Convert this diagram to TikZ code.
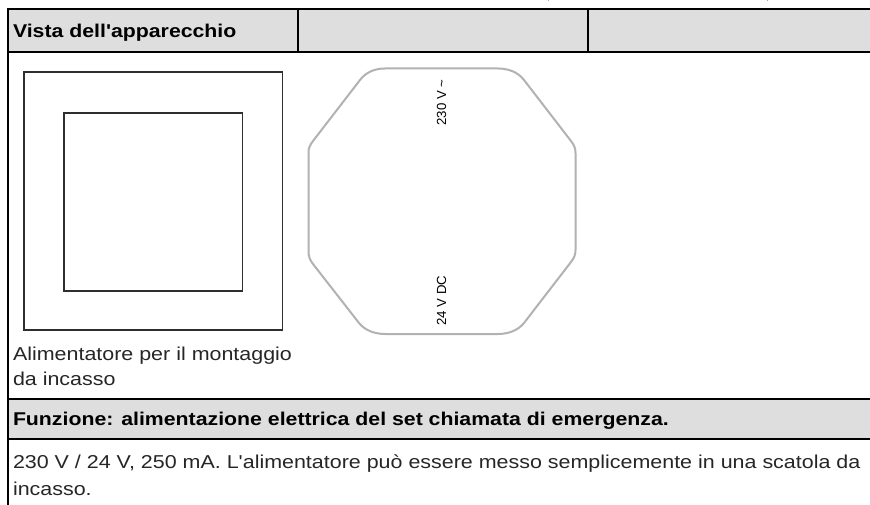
\documentclass[tikz,border=0pt]{standalone}
\usepackage{fontspec}
\setmainfont{Liberation Sans}
\newfontfamily\widefont[FakeStretch=1.15]{Liberation Sans}
\tikzset{
  rule/.style={draw=black,line width=2pt},
  band/.style={fill=black!13,draw=none},
  frame/.style={draw=black!82,line width=1.6pt},
  body/.style={draw=black!30,line width=2pt,line join=round},
  speck/.style={draw=black!35,line width=1pt},
  txt/.style={anchor=base west,inner sep=0pt,outer sep=0pt,text=black!85,font=\widefont\fontsize{18.65}{22}\selectfont},
  head/.style={txt,text=black,font=\widefont\fontsize{18.5}{22}\selectfont\bfseries},
  tiny/.style={inner sep=0pt,outer sep=0pt,anchor=base,rotate=90,text=black,font=\fontsize{13.2}{16}\selectfont}
}
\begin{document}
\begin{tikzpicture}[x=1pt,y=-1pt]
\useasboundingbox (0,0) rectangle (870,505);
\fill[white] (0,0) rectangle (870,505);
\fill[band] (8,9) rectangle (870,52);
\fill[band] (8,399) rectangle (870,439);
\draw[speck] (548,0) -- (548,1.5);
\draw[speck] (767,0) -- (767,1.5);
\draw[rule] (870,9) -- (8,9) -- (8,505);
\draw[rule] (8,52) -- (870,52);
\draw[rule] (298,9) -- (298,52);
\draw[rule] (588,9) -- (588,52);
\draw[rule] (8,399) -- (870,399);
\draw[rule] (8,439) -- (870,439);
\draw[frame] (23.7,71.8) rectangle (282.5,330);
\draw[frame] (63.8,113.2) rectangle (242.3,290.7);
\draw[body] (308.5,152) .. controls (308.5,148) and (310,145) .. (313,141)
  -- (360,80) .. controls (366,72) and (375,68.5) .. (385,68.5)
  -- (498,68.5) .. controls (508,68.5) and (518,72) .. (524,80)
  -- (571,141) .. controls (574,145) and (575.5,148) .. (575.5,153)
  -- (575.5,250) .. controls (575.5,255) and (574,258) .. (571,262)
  -- (524,323) .. controls (518,330.5) and (508,334) .. (498,334)
  -- (385,334) .. controls (375,334) and (365,330.5) .. (359,323)
  -- (313,264) .. controls (310,260) and (308.5,257) .. (308.5,251) -- cycle;
\node[head] (title) at (13,38) {Vista dell'apparecchio};
\node[tiny] (ac) at (446,102.5) {230 V \textasciitilde};
\node[tiny] (dc) at (446,300.5) {24 V DC};
\node[txt] (cap1) at (13,360) {Alimentatore per il montaggio};
\node[txt] (cap2) at (13,385) {da incasso};
\node[head] (fn) at (13,425) {Funzione: alimentazione elettrica del set chiamata di emergenza.};
\node[txt] (d1) at (13,468) {230 V / 24 V, 250 mA. L'alimentatore può essere messo semplicemente in una scatola da};
\node[txt] (d2) at (13,495) {incasso.};
\end{tikzpicture}
\end{document}
